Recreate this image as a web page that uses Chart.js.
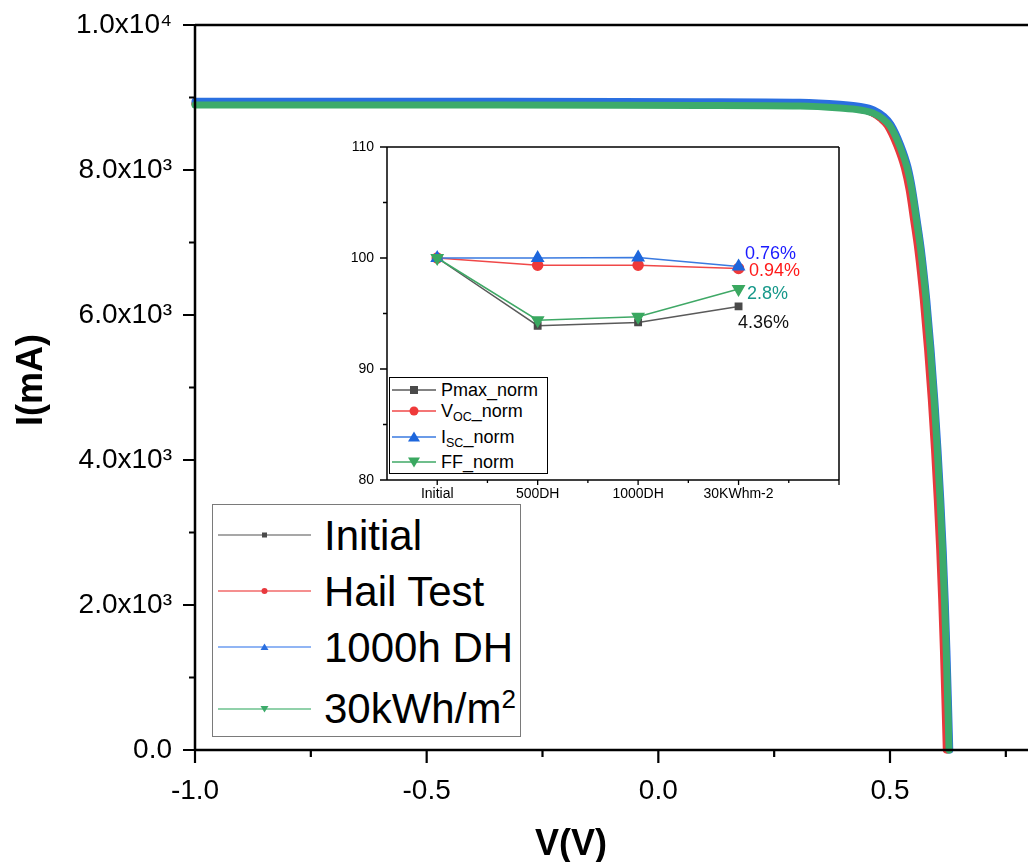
<!DOCTYPE html>
<html>
<head>
<meta charset="utf-8">
<script src="https://cdn.jsdelivr.net/npm/chart.js@4.4.1/dist/chart.umd.min.js"></script>
<style>
  html, body { margin: 0; padding: 0; background: #fff; overflow: hidden; }
  body { width: 1028px; height: 862px; position: relative; font-family: 'Liberation Sans', Arial, sans-serif; color: #000; }
  canvas { position: absolute; }
  #main { left: 0; top: 0; }
  #inset { left: 330px; top: 130px; }
  .abs { position: absolute; white-space: nowrap; }
  .title { font-weight: bold; font-size: 36px; line-height: 40px; height: 40px; width: 200px; text-align: center; }
  #legend { position: absolute; left: 212px; top: 504px; width: 307px; height: 231px; border: 1.5px solid #7a7a7a; background: #fff; }
  #legend .txt { position: absolute; left: 111px; font-size: 42px; line-height: 42px; }
  #legend svg, #ilegend svg { position: absolute; }
  #ilegend { position: absolute; left: 389px; top: 377px; width: 157px; height: 95px; border: 1.5px solid #000; background: #fff; }
  #ilegend .txt { position: absolute; left: 51px; font-size: 18px; line-height: 18px; }
  .sub { font-size: 12.5px; vertical-align: -4px; }
  .note { font-size: 18px; line-height: 18px; }
</style>
</head>
<body>
<canvas id="main" width="1030" height="862"></canvas>
<canvas id="inset" width="520" height="380"></canvas>

<div class="abs title" style="left:-70px; top:360px; transform: rotate(-90deg);">I(mA)</div>
<div class="abs title" style="left:471px; top:823px;">V(V)</div>

<div id="legend">
  <svg style="left:5px; top:25px" width="95" height="10"><line x1="0" y1="5" x2="93" y2="5" stroke="#8a8a8a" stroke-width="1.5"/><rect x="44" y="2.5" width="5" height="5" fill="#4a4a4a"/></svg>
  <div class="txt" style="top:10px">Initial</div>
  <svg style="left:5px; top:81px" width="95" height="10"><line x1="0" y1="5" x2="93" y2="5" stroke="#f26a6a" stroke-width="1.5"/><circle cx="46.5" cy="5" r="3" fill="#e8383d"/></svg>
  <div class="txt" style="top:66px">Hail Test</div>
  <svg style="left:5px; top:137px" width="95" height="10"><line x1="0" y1="5" x2="93" y2="5" stroke="#6d9cf0" stroke-width="1.5"/><polygon points="46.5,1.5 50.5,8 42.5,8" fill="#2a6fe0"/></svg>
  <div class="txt" style="top:122px">1000h DH</div>
  <svg style="left:5px; top:199px" width="95" height="10"><line x1="0" y1="5" x2="93" y2="5" stroke="#6cc28e" stroke-width="1.5"/><polygon points="42.5,2 50.5,2 46.5,8.5" fill="#3dab6b"/></svg>
  <div class="txt" style="top:183px">30kWh/m<span style="font-size:26px; position:relative; top:-15px;">2</span></div>
</div>

<div id="ilegend">
  <svg style="left:2px; top:6px" width="46" height="12"><line x1="0" y1="6" x2="44" y2="6" stroke="#5a5a5a" stroke-width="1.5"/><rect x="18" y="2" width="8" height="8" fill="#4a4a4a"/></svg>
  <div class="txt" style="top:3px">Pmax_norm</div>
  <svg style="left:2px; top:27px" width="46" height="12"><line x1="0" y1="6" x2="44" y2="6" stroke="#f04848" stroke-width="1.5"/><circle cx="22" cy="6" r="4.5" fill="#ef3a3a"/></svg>
  <div class="txt" style="top:24px">V<span class="sub">OC</span>_norm</div>
  <svg style="left:2px; top:53px" width="46" height="12"><line x1="0" y1="6" x2="44" y2="6" stroke="#3a7ae0" stroke-width="1.5"/><polygon points="22,0.5 28,10.5 16,10.5" fill="#1d66dc"/></svg>
  <div class="txt" style="top:50px">I<span class="sub">SC</span>_norm</div>
  <svg style="left:2px; top:78px" width="46" height="12"><line x1="0" y1="6" x2="44" y2="6" stroke="#3fa866" stroke-width="1.5"/><polygon points="16,1.5 28,1.5 22,11.5" fill="#3aa860"/></svg>
  <div class="txt" style="top:75px">FF_norm</div>
</div>

<div class="abs note" style="left:745px; top:244px; color:#1a1aff;">0.76%</div>
<div class="abs note" style="left:749px; top:261px; color:#ff1a1a;">0.94%</div>
<div class="abs note" style="left:747px; top:284px; color:#16988a;">2.8%</div>
<div class="abs note" style="left:738px; top:313px; color:#111;">4.36%</div>

<script>
// ── main I-V curves (V in volts, I in mA) ──
const INIT_V = [-1.0, -0.342, 0.090, 0.306, 0.392, 0.433, 0.460, 0.482, 0.497, 0.518, 0.534, 0.5443, 0.5540, 0.5632, 0.5749, 0.5842, 0.5922, 0.5991, 0.6051, 0.6103, 0.6146, 0.6183, 0.6215, 0.6245];
const INIT_I = [8910, 8910, 8903, 8896, 8868, 8840, 8795, 8708, 8610, 8331, 8028, 7724, 7310, 6897, 6207, 5517, 4828, 4138, 3448, 2759, 2069, 1379, 690, 0];
const HAIL_V = [-1.0, -0.342, 0.090, 0.306, 0.392, 0.432, 0.458, 0.479, 0.494, 0.515, 0.531, 0.5413, 0.5510, 0.5602, 0.5719, 0.5812, 0.5892, 0.5961, 0.6021, 0.6073, 0.6116, 0.6153, 0.6185, 0.6215];
const HAIL_I = [8922, 8922, 8915, 8908, 8880, 8850, 8800, 8712, 8612, 8331, 8028, 7724, 7310, 6897, 6207, 5517, 4828, 4138, 3448, 2759, 2069, 1379, 690, 0];
const DH_V = [-1.0, -0.342, 0.090, 0.306, 0.392, 0.436, 0.465, 0.487, 0.502, 0.523, 0.539, 0.5488, 0.5585, 0.5677, 0.5794, 0.5887, 0.5967, 0.6036, 0.6096, 0.6148, 0.6191, 0.6228, 0.6260, 0.6290];
const DH_I = [8950, 8950, 8943, 8936, 8908, 8878, 8830, 8740, 8630, 8345, 8035, 7724, 7310, 6897, 6207, 5517, 4828, 4138, 3448, 2759, 2069, 1379, 690, 0];
const KWH_V = [-1.0, -0.342, 0.090, 0.306, 0.392, 0.435, 0.463, 0.485, 0.500, 0.521, 0.537, 0.5473, 0.5570, 0.5662, 0.5779, 0.5872, 0.5952, 0.6021, 0.6081, 0.6133, 0.6176, 0.6213, 0.6245, 0.6275];
const KWH_I = [8897, 8897, 8890, 8883, 8855, 8828, 8786, 8703, 8607, 8331, 8028, 7724, 7310, 6897, 6207, 5517, 4828, 4138, 3448, 2759, 2069, 1379, 690, 0];

const XTICKS = [-1.0, -0.5, 0.0, 0.5];
const XTICK_LABELS = ['-1.0', '-0.5', '0.0', '0.5'];
const XMINOR = [-0.75, -0.25, 0.25, 0.75];
const YTICKS = [0, 2000, 4000, 6000, 8000, 10000];
const YTICK_LABELS = ['0.0', '2.0x10³', '4.0x10³', '6.0x10³', '8.0x10³', '1.0x10⁴'];
const YMINOR = [1000, 3000, 5000, 7000, 9000];

// ── inset: normalised parameters ──
const CATS = ['Initial', '500DH', '1000DH', '30KWhm-2'];
const PMAX = [100, 93.9, 94.2, 95.64];
const VOC = [100, 99.35, 99.35, 99.06];
const ISC = [100, 100.0, 100.05, 99.24];
const FF = [100, 94.4, 94.7, 97.2];
const IN_YTICKS = [80, 90, 100, 110];
const IN_YMINOR = [85, 95, 105];
const IN_XTICKS = [0, 1, 2, 3, 4];
const IN_XMINOR = [0.5, 1.5, 2.5, 3.5];

const FONT = "'Liberation Sans', Arial, sans-serif";
const pts = (xs, ys) => xs.map((x, i) => ({ x: x, y: ys[i] }));

// ═══ frame + tick marks ═══
const frameTicks = {
  id: 'frameTicks',
  afterDraw(chart, args, opts) {
    const ctx = chart.ctx, a = chart.chartArea;
    ctx.save();
    ctx.strokeStyle = '#000';
    ctx.lineCap = 'butt';
    ctx.lineWidth = opts.width;
    ctx.beginPath();
    opts.edges.forEach(e => {
      if (e === 'left') { ctx.moveTo(a.left, a.top); ctx.lineTo(a.left, a.bottom); }
      if (e === 'right') { ctx.moveTo(a.right, a.top); ctx.lineTo(a.right, a.bottom); }
      if (e === 'top') { ctx.moveTo(a.left, a.top); ctx.lineTo(a.right, a.top); }
      if (e === 'bottom') { ctx.moveTo(a.left, a.bottom); ctx.lineTo(a.right, a.bottom); }
    });
    ctx.stroke();
    ctx.lineWidth = opts.tickWidth;
    ctx.beginPath();
    opts.ticks.forEach(t => {
      const sc = chart.scales[t.axis];
      [[t.major, t.majorLen], [t.minor, t.minorLen]].forEach(([vals, len]) => vals.forEach(v => {
        const p = sc.getPixelForValue(v);
        if (t.axis === 'x') { ctx.moveTo(p, a.bottom); ctx.lineTo(p, a.bottom + len); }
        else { ctx.moveTo(a.left, p); ctx.lineTo(a.left - len, p); }
      }));
    });
    ctx.stroke();
    ctx.restore();
  }
};

// kill the label overflow padding so layout.padding alone places the plot box
const noPadX = w => s => { s.height = w; s.paddingLeft = 0; s.paddingRight = 0; };
const noPadY = w => s => { s.width = w; s.paddingTop = 0; s.paddingBottom = 0; };

function ivSet(label, xs, ys, color, order) {
  return {
    label, data: pts(xs, ys), borderColor: color, backgroundColor: color,
    borderWidth: 7, pointRadius: 0, cubicInterpolationMode: 'monotone',
    borderCapStyle: 'round', borderJoinStyle: 'round', clip: false, order
  };
}

new Chart(document.getElementById('main'), {
  type: 'line',
  data: {
    datasets: [
      ivSet('Initial', INIT_V, INIT_I, '#4d4d4d', 3),
      ivSet('Hail Test', HAIL_V, HAIL_I, '#e8383d', 2),
      ivSet('1000h DH', DH_V, DH_I, '#2a6fe0', 1),
      ivSet('30kWh/m2', KWH_V, KWH_I, '#3dab6b', 0)
    ]
  },
  options: {
    responsive: false,
    animation: false,
    layout: { padding: { top: 25, right: 1, left: 0, bottom: 0 } },
    plugins: {
      legend: { display: false },
      tooltip: { enabled: false },
      frameTicks: {
        width: 2.5, tickWidth: 2.2, edges: ['left', 'bottom', 'top'],
        ticks: [
          { axis: 'x', major: XTICKS, minor: XMINOR, majorLen: 13, minorLen: 7 },
          { axis: 'y', major: YTICKS, minor: YMINOR, majorLen: 12, minorLen: 6 }
        ]
      }
    },
    scales: {
      x: {
        type: 'linear', min: -1, max: 0.8,
        grid: { display: false, drawTicks: false }, border: { display: false },
        afterBuildTicks: s => { s.ticks = XTICKS.map(v => ({ value: v })); },
        afterFit: noPadX(112),
        ticks: {
          padding: 24, color: '#000', maxRotation: 0, autoSkip: false,
          font: { family: FONT, size: 28 },
          callback: v => XTICK_LABELS[XTICKS.indexOf(v)]
        }
      },
      y: {
        type: 'linear', min: 0, max: 10000,
        grid: { display: false, drawTicks: false }, border: { display: false },
        afterBuildTicks: s => { s.ticks = YTICKS.map(v => ({ value: v })); },
        afterFit: noPadY(195),
        ticks: {
          padding: 23, color: '#000', autoSkip: false,
          font: { family: FONT, size: 28 },
          callback: v => YTICK_LABELS[YTICKS.indexOf(v)]
        }
      }
    }
  },
  plugins: [frameTicks]
});

function normSet(label, vals, line, fill, style, radius, rot, order) {
  return {
    label, data: pts(vals.map((v, i) => i), vals), borderColor: line, backgroundColor: fill,
    pointBorderColor: fill, pointBackgroundColor: fill,
    borderWidth: 1.5, pointStyle: style, pointRadius: radius, pointRotation: rot, order
  };
}

new Chart(document.getElementById('inset'), {
  type: 'line',
  data: {
    datasets: [
      normSet('Pmax_norm', PMAX, '#5a5a5a', '#4a4a4a', 'rect', 4.5, 0, 3),
      normSet('VOC_norm', VOC, '#f04848', '#ef3a3a', 'circle', 5, 0, 2),
      normSet('ISC_norm', ISC, '#3a7ae0', '#1d66dc', 'triangle', 6.5, 0, 1),
      normSet('FF_norm', FF, '#3fa866', '#3aa860', 'triangle', 6.5, 180, 0)
    ]
  },
  options: {
    responsive: false,
    animation: false,
    layout: { padding: { top: 17, right: 11, left: 0, bottom: 0 } },
    plugins: {
      legend: { display: false },
      tooltip: { enabled: false },
      frameTicks: {
        width: 1.5, tickWidth: 1.3, edges: ['left', 'bottom', 'top', 'right'],
        ticks: [
          { axis: 'x', major: IN_XTICKS, minor: IN_XMINOR, majorLen: 5, minorLen: 3 },
          { axis: 'y', major: IN_YTICKS, minor: IN_YMINOR, majorLen: 7, minorLen: 4 }
        ]
      }
    },
    scales: {
      x: {
        type: 'linear', min: -0.5, max: 4,
        grid: { display: false, drawTicks: false }, border: { display: false },
        afterBuildTicks: s => { s.ticks = CATS.map((c, i) => ({ value: i })); },
        afterFit: noPadX(30),
        ticks: {
          padding: 6, color: '#000', maxRotation: 0, autoSkip: false,
          font: { family: FONT, size: 14 },
          callback: v => CATS[v]
        }
      },
      y: {
        type: 'linear', min: 80, max: 110,
        grid: { display: false, drawTicks: false }, border: { display: false },
        afterBuildTicks: s => { s.ticks = IN_YTICKS.map(v => ({ value: v })); },
        afterFit: noPadY(57),
        ticks: {
          padding: 13, color: '#000', autoSkip: false,
          font: { family: FONT, size: 14 },
          callback: v => String(v)
        }
      }
    }
  },
  plugins: [frameTicks]
});
</script>
</body>
</html>
